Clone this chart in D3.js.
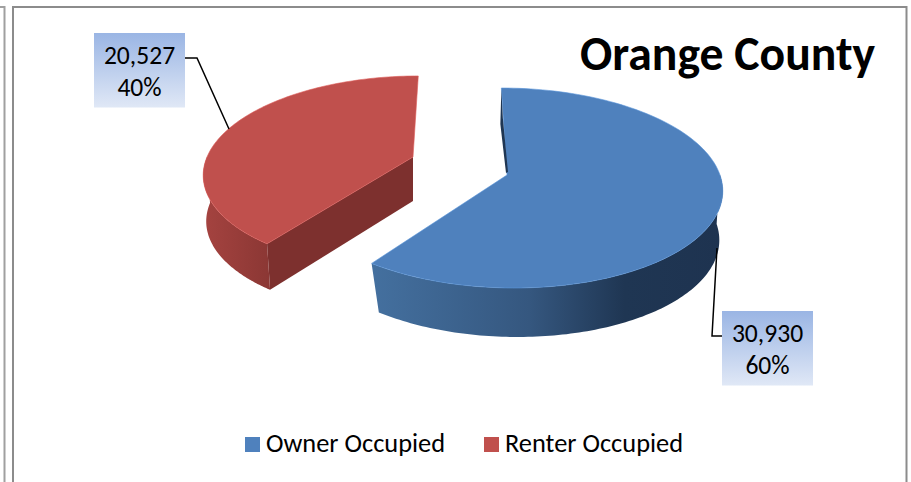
<!DOCTYPE html>
<html><head><meta charset="utf-8">
<script src="https://cdn.jsdelivr.net/npm/d3@7"></script>
<style>html,body{margin:0;padding:0;background:#fff}svg{display:block}</style>
</head><body><svg id="c" width="911" height="482"></svg>
<script>
const categories = ["Owner Occupied", "Renter Occupied"];
const seriesValues = [30930, 20527];
const valueLabels = ["30,930", "20,527"];
const percentLabels = ["60%", "40%"];
const titleText = "Orange County";

const font = "Carlito, Calibri, 'Open Sans', 'Noto Sans', sans-serif";
const svg = d3.select("#c");
const defs = svg.append("defs");
const W = 911, H = 482;

function grad(id, stops, x2, y2) {
  const g = defs.append("linearGradient").attr("id", id)
    .attr("x1", 0).attr("y1", 0).attr("x2", x2).attr("y2", y2);
  stops.forEach(s => g.append("stop").attr("offset", s[0]).attr("stop-color", s[1]));
}
grad("boxG", [[0, "#9ab5e4"], [1, "#e0e8f6"]], 0, 1);
grad("blueSide", [[0, "#44709f"], [0.45, "#35577f"], [0.72, "#1f3653"], [1, "#1e3350"]], 1, 0);
grad("redSide", [[0, "#a54340"], [1, "#8b3734"]], 1, 0);

// frame
const frame = svg.append("g").attr("fill", "none").attr("stroke", "#8c8c8c").attr("stroke-width", 2);
frame.append("path").attr("d", `M0,7H4.5V${H}`).attr("stroke", "#a0a0a0");
frame.append("path").attr("d", `M13,${H}V7H906.5V${H}`);

const pie = d3.pie().sort(null).startAngle(0).endAngle(2 * Math.PI)(seriesValues);

// Perspective projection of each slice's disc
const slices = [
  {apex: [507, 175], A: 213, a: 98.3, b: 0.13, k: 0.065, g: 0.97, depth: 49, wallDepth: 49, top: "#4f81bd", side: "url(#blueSide)", wall: "#1f3653"},
  {apex: [413, 157], A: 206, a: 94, b: 0.16, k: -0.065, g: 1, depth: 46, wallDepth: 44, top: "#c0504d", side: "url(#redSide)", wall: "#7d302e"}
];
function project(s, t, z) {
  const d = 1 + s.b * Math.cos(t);
  const g = z ? s.g : 1;
  const dy = -s.a * Math.cos(t) / d;
  return [s.apex[0] + (z ? 3 : 0) + g * s.A * Math.sin(t) / d + s.k * dy, s.apex[1] + z + dy];
}
const line = d3.line();
function arcPts(s, a0, a1, z) {
  return d3.range(0, 121).map(i => project(s, a0 + (a1 - a0) * i / 120, z));
}
const g = svg.append("g");
pie.forEach((p, i) => {
  const s = slices[i], a0 = p.startAngle, a1 = p.endAngle;
  const sg = g.append("g");
  const r0 = Math.max(a0, Math.PI / 2), r1 = Math.min(a1, 3 * Math.PI / 2);
  const topRim = arcPts(s, r0, r1, 0), botRim = arcPts(s, r0, r1, s.depth).reverse();
  if (i === 1) {
    // exposed cut face of the exploded slice
    const c = project(s, a0, 0), c2 = project(s, a0, s.depth);
    sg.append("path").attr("d", line([c, s.apex, [s.apex[0], s.apex[1] + s.wallDepth], c2]) + "Z").attr("fill", s.wall);
  }
  sg.append("path").attr("d", line(topRim.concat(botRim)) + "Z").attr("fill", s.side);
  const pts = [s.apex].concat(arcPts(s, a0, a1, 0));
  sg.append("path").attr("d", line(pts) + "Z").attr("fill", s.top)
    .attr("stroke", d3.color(s.top).brighter(0.4)).attr("stroke-width", 0.6);
  if (i === 0) {
    // thin inner wall visible along the start edge
    const c = project(s, a0, 0);
    sg.append("path").attr("d", line([[c[0], c[1] + 1], [c[0] - 1, c[1] + 36], [s.apex[0] - 1, s.apex[1] - 2], [s.apex[0] + 1, s.apex[1] - 3], [c[0] + 1.5, c[1] + 30]]) + "Z").attr("fill", s.wall);
  }
});

// leader lines + labels
const labelLayout = [
  {x: 722, y: 311, leader: [[717, 248], [712, 336], [722, 336]]},
  {x: 94, y: 33, leader: [[185, 58], [197, 58], [229, 129]]}
];
categories.forEach((c, i) => {
  const L = labelLayout[i];
  g.append("path").attr("d", line(L.leader)).attr("fill", "none").attr("stroke", "#000").attr("stroke-width", 1.5);
  g.append("rect").attr("x", L.x).attr("y", L.y).attr("width", 91).attr("height", 74.5).attr("fill", "url(#boxG)");
  [valueLabels[i], percentLabels[i]].forEach((t, j) => {
    g.append("text").attr("x", L.x + 45.5).attr("y", L.y + 30.5 + j * 32.5).attr("text-anchor", "middle")
      .attr("font-family", font).attr("font-size", 25.6).attr("fill", "#000").text(t);
  });
});

// title
svg.append("text").attr("x", 875).attr("y", 70).attr("text-anchor", "end")
  .attr("font-family", font).attr("font-weight", 700).attr("font-size", 47.7).attr("fill", "#000").text(titleText);

// legend
const legendX = d3.scaleOrdinal().domain(categories).range([245, 484]);
const legendFill = d3.scaleOrdinal().domain(categories).range(["#4f81bd", "#c0504d"]);
categories.forEach(c => {
  svg.append("rect").attr("x", legendX(c)).attr("y", 437).attr("width", 15).attr("height", 15).attr("fill", legendFill(c));
  svg.append("text").attr("x", legendX(c) + 21).attr("y", 452)
    .attr("font-family", font).attr("font-size", 26.4).attr("fill", "#000").text(c);
});
</script></body></html>
